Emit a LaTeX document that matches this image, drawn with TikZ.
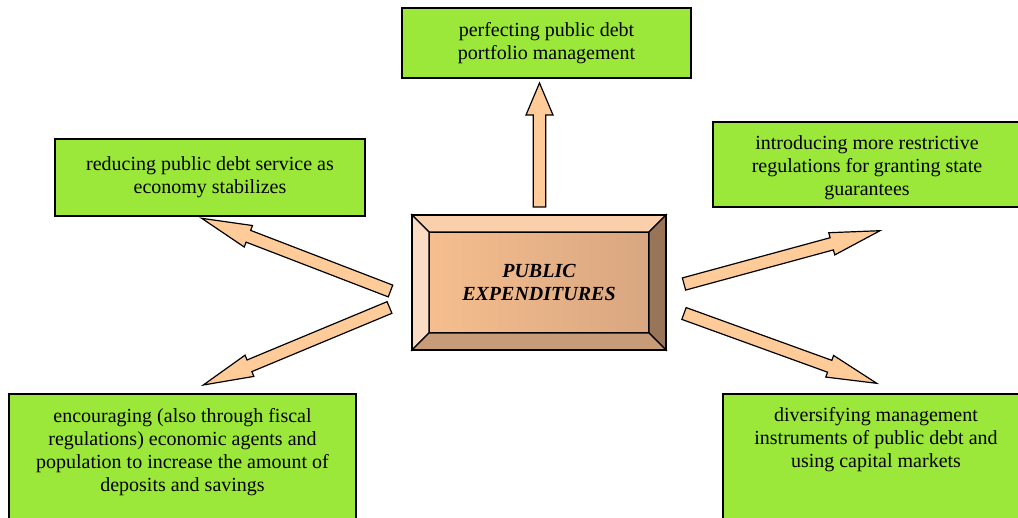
\documentclass[tikz,border=0pt]{standalone}
\usepackage{fontspec}
\setmainfont{Liberation Serif}
\usetikzlibrary{calc}

\definecolor{boxgreen}{RGB}{155,232,58}
\definecolor{arrowpeach}{RGB}{255,204,153}
\definecolor{faceA}{RGB}{246,190,142}
\definecolor{faceB}{RGB}{216,166,128}
\definecolor{bevelTop}{RGB}{250,208,172}
\definecolor{bevelLeft}{RGB}{250,219,196}
\definecolor{bevelRight}{RGB}{152,116,88}
\definecolor{bevelBottom}{RGB}{200,156,120}

% block arrow: head length, head half width, tail, tip
\newcommand{\blockarrow}[4]{%
  \path ($(#4)!#1pt!(#3)$) coordinate (ah);
  \draw[bigarrow] ($(#3)!6.3pt!90:(#4)$) -- ($(ah)!6.3pt!90:(#4)$) -- ($(ah)!#2pt!90:(#4)$) -- (#4)
    -- ($(ah)!#2pt!-90:(#4)$) -- ($(ah)!6.3pt!-90:(#4)$) -- ($(#3)!6.3pt!-90:(#4)$) -- cycle;}

\begin{document}
\begin{tikzpicture}[x=1pt,y=-1pt,
    greenbox/.style={draw, line width=1.4pt, fill=boxgreen, align=center, inner sep=0pt, outer sep=0pt,
      font=\fontsize{20}{23}\selectfont},
    boxtext/.style={align=center, inner sep=0pt, font=\fontsize{20}{23}\selectfont},
    bigarrow/.style={draw, line width=1.2pt, fill=arrowpeach, line join=miter},
    bevel/.style={draw, line width=1.3pt}]
			\useasboundingbox (0,0) rectangle (1018,518);
			\clip (0,0) rectangle (1018,518);

			% outer boxes
			\node[greenbox, minimum width=289pt, minimum height=70pt] (debtport) at (546.5,43) {perfecting public debt\\portfolio management};
			\node[greenbox, minimum width=310pt, minimum height=77pt] (debtserv) at (210,177.5) {reducing public debt service as\\economy stabilizes};
			\node[greenbox, minimum width=309pt, minimum height=85pt, anchor=north west] (guarant) at (713,122) {};
			\node[boxtext, anchor=north] (guaranttext) at (867,135) {introducing more restrictive\\regulations for granting state\\guarantees};
			\node[greenbox, minimum width=347pt, minimum height=140pt, anchor=north west] (savings) at (9,394) {};
			\node[boxtext, anchor=north] (savingstext) at (182.5,408) {encouraging (also through fiscal\\regulations) economic agents and\\population to increase the amount of\\deposits and savings};
			\node[greenbox, minimum width=310pt, minimum height=140pt, anchor=north west] (instr) at (723,394) {};
			\node[boxtext, anchor=north] (instrtext) at (876,407) {diversifying management\\instruments of public debt and\\using capital markets};

			% centre box
			\node[draw, line width=1.3pt, left color=faceA, right color=faceB, minimum width=220pt, minimum height=101pt,
			  inner sep=0pt, outer sep=0pt, align=center, font=\fontsize{20}{23}\selectfont\bfseries\itshape] (pubexp) at (539,282.5) {PUBLIC\\EXPENDITURES};
			\coordinate (onw) at ($(pubexp.north west)+(-17,-17)$);
			\coordinate (one) at ($(pubexp.north east)+(17,-17)$);
			\coordinate (ose) at ($(pubexp.south east)+(17,17)$);
			\coordinate (osw) at ($(pubexp.south west)+(-17,17)$);
			\draw[bevel, fill=bevelTop] (onw) -- (one) -- (pubexp.north east) -- (pubexp.north west) -- cycle;
			\draw[bevel, fill=bevelLeft] (onw) -- (pubexp.north west) -- (pubexp.south west) -- (osw) -- cycle;
			\draw[bevel, fill=bevelRight] (one) -- (ose) -- (pubexp.south east) -- (pubexp.north east) -- cycle;
			\draw[bevel, fill=bevelBottom] (osw) -- (pubexp.south west) -- (pubexp.south east) -- (ose) -- cycle;
			\draw[line width=2pt] (onw) rectangle (ose);

			% arrows
			\coordinate (upTail) at (539.5,207);
			\coordinate (upTip) at (539.5,83);
			\coordinate (luTail) at (390.5,291);
			\coordinate (luTip) at (201.7,218.3);
			\coordinate (ldTail) at (389.5,307.5);
			\coordinate (ldTip) at (203.3,385);
			\coordinate (ruTail) at (684,284);
			\coordinate (ruTip) at (880,230.7);
			\coordinate (rdTail) at (684,313.5);
			\coordinate (rdTip) at (876.7,383.3);
			\blockarrow{32}{13.5}{upTail}{upTip}
			\blockarrow{50}{11.5}{luTail}{luTip}
			\blockarrow{50}{11.5}{ldTail}{ldTip}
			\blockarrow{50}{11.5}{ruTail}{ruTip}
			\blockarrow{50}{11.5}{rdTail}{rdTip}
		\end{tikzpicture}
\end{document}
